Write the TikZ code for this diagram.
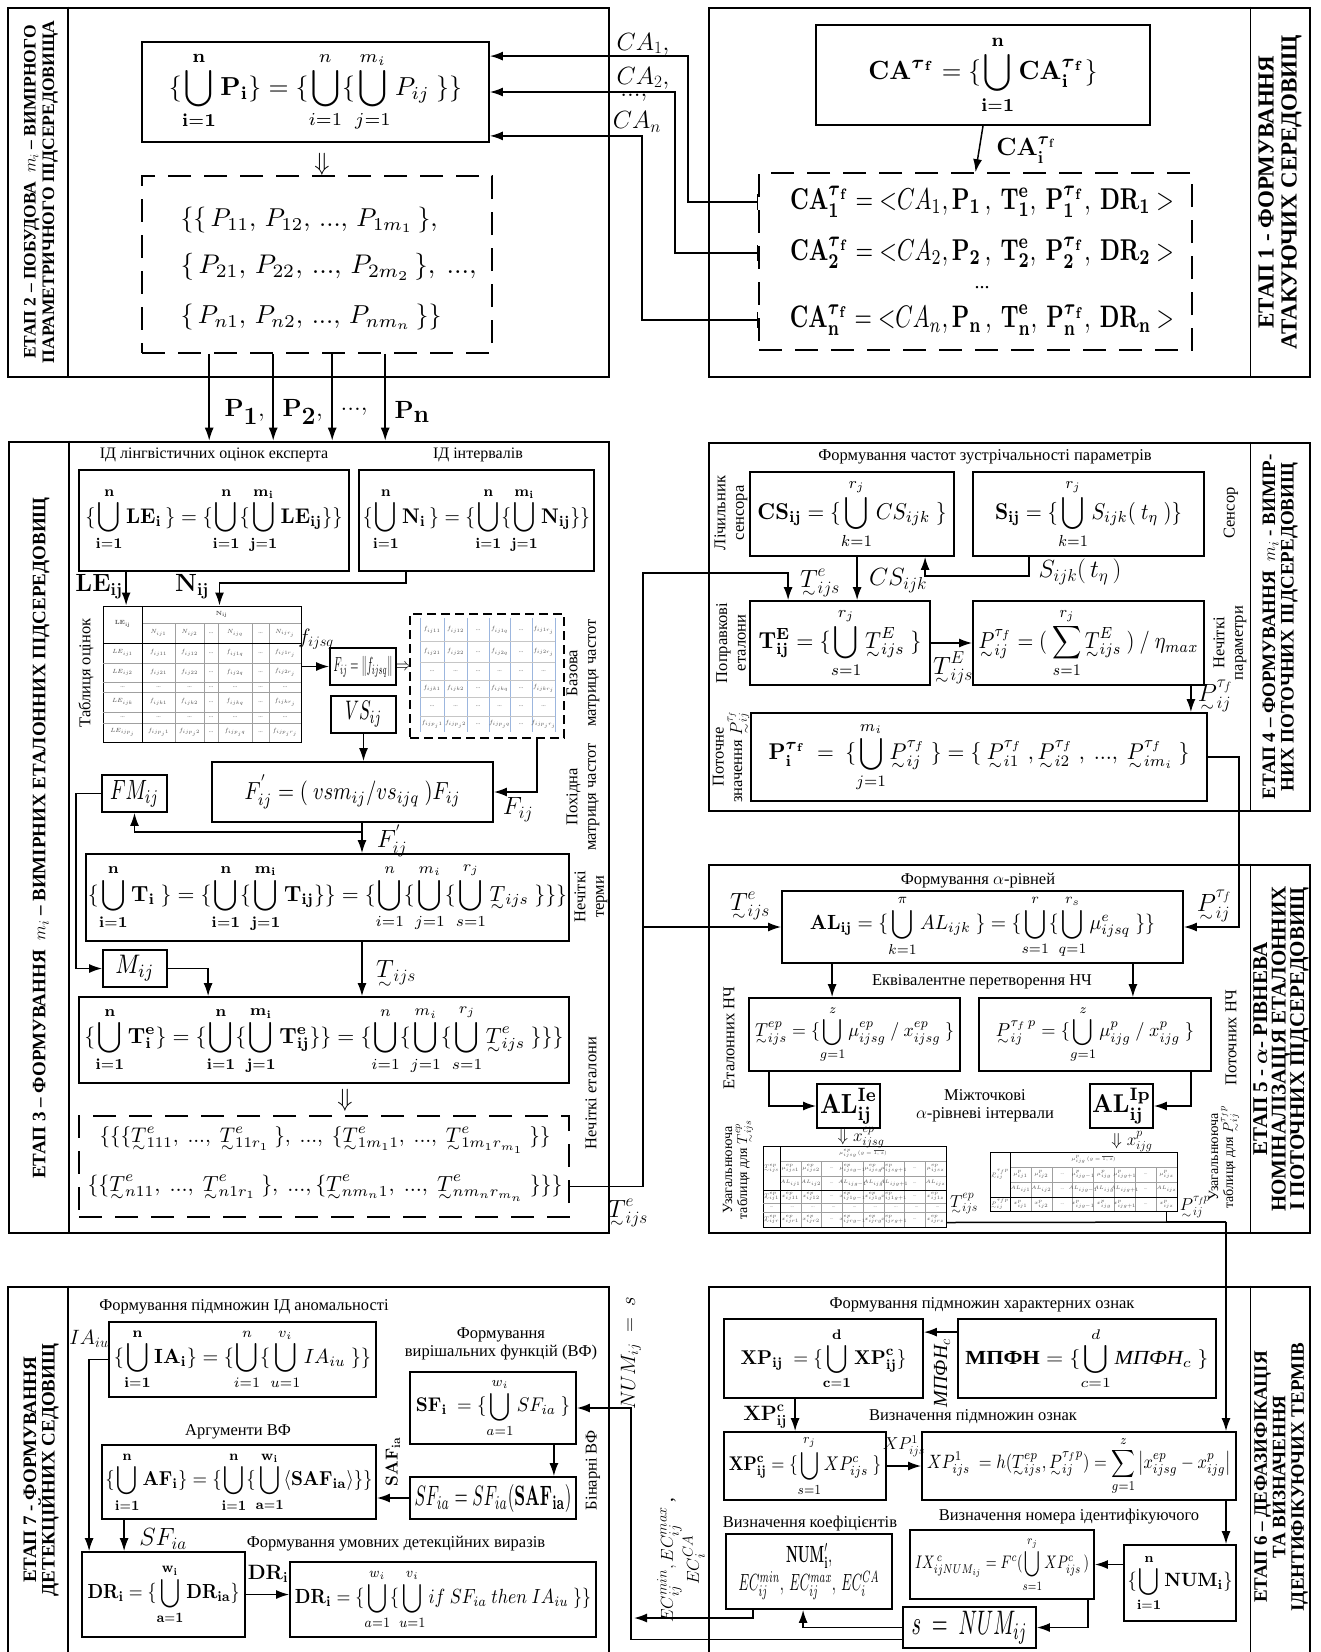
\documentclass[tikz,border=0pt]{standalone}
\usepackage{amsmath}
\usepackage{graphicx}
\usepackage[no-math]{fontspec}
\setmainfont{Liberation Serif}
\usetikzlibrary{arrows.meta}
\definecolor{gridGray}{HTML}{A0A0A0}
\definecolor{gridBlue}{HTML}{9CB6DE}
\definecolor{cellText}{HTML}{505050}
\newcommand{\bv}[1]{\mathbf{#1}}
\newcommand{\fz}[1]{{\vphantom{#1}\smash{\underset{\raisebox{0.45ex}{$\scriptstyle\sim$}}{#1}}}}
\newcommand{\tfb}{\boldsymbol{\tau}_{\mathbf{f}}}
\newcommand{\fb}[3]{\resizebox*{#1pt}{#2pt}{$\displaystyle #3$}}
\newcommand{\fw}[2]{\resizebox{#1pt}{!}{$\displaystyle #2$}}
\begin{document}
\begin{tikzpicture}[x=1pt, y=-1pt,
  stage/.style={draw, line width=2.6pt, inner sep=0pt},
  box/.style={draw, line width=1.8pt, inner sep=0pt},
  dbox/.style={draw, line width=1.6pt, inner sep=0pt, dash pattern=on 23pt off 13pt},
  rule/.style={line width=1.6pt},
  link/.style={line width=1.5pt},
  arr/.style={line width=1.5pt, -{Latex[length=13pt,width=9pt]}},
  tee/.style={line width=1.5pt, {Bar[width=16pt]}-{Latex[length=13pt,width=9pt]}},
  ctext/.style={font=\fontsize{16.5}{18.5}\selectfont, inner sep=0pt, align=center},
  vtext/.style={ctext, rotate=90},
  ttl/.style={font=\bfseries\fontsize{19}{18.5}\selectfont, rotate=90, align=center, inner sep=0pt},
  lab/.style={font=\fontsize{24}{26}\selectfont, inner sep=0pt},
  cell/.style={font=\fontsize{6}{7}\selectfont, text=cellText, inner sep=0pt},
  tcell/.style={font=\fontsize{4.5}{5}\selectfont, text=cellText, inner sep=0pt}]
\useasboundingbox (0,0) rectangle (1320,1652);

% stage frames
\node[stage, minimum width=601pt, minimum height=369pt] (st2) at (308.5,192.5) {};
\node[stage, minimum width=601pt, minimum height=369pt] (st1) at (1009.5,192.5) {};
\node[stage, minimum width=600pt, minimum height=791pt] (st3) at (309,837.5) {};
\node[stage, minimum width=601pt, minimum height=368pt] (st4) at (1009.5,627) {};
\node[stage, minimum width=601pt, minimum height=368pt] (st5) at (1009.5,1049) {};
\node[stage, minimum width=601pt, minimum height=433pt] (st6) at (1009.5,1503.5) {};
\node[stage, minimum width=601pt, minimum height=433pt] (st7) at (308.5,1503.5) {};
\foreach \s in {st2,st3,st7}
  \draw[rule] ([xshift=61pt]\s.north west) -- ([xshift=61pt]\s.south west);
\foreach \s in {st1,st4,st5,st6}
  \draw[rule] ([xshift=-61pt]\s.north east) -- ([xshift=-61pt]\s.south east);

\node[ttl, font=\bfseries\fontsize{17.5}{18.5}\selectfont] (t2) at (41,192) {ЕТАП 2 – ПОБУДОВА \ $m_i$ – ВИМІРНОГО\\ПАРАМЕТРИЧНОГО ПІДСЕРЕДОВИЩА};
\node[ttl, font=\bfseries\fontsize{23}{23}\selectfont] (t1) at (1280,192) {ЕТАП 1 - ФОРМУВАННЯ\\АТАКУЮЧИХ СЕРЕДОВИЩ};
\node[ttl] (t3) at (41,838) {ЕТАП 3 – ФОРМУВАННЯ \ $m_i$ – ВИМІРНИХ ЕТАЛОННИХ ПІДСЕРЕДОВИЩ};
\node[ttl] (t4) at (1280,627) {ЕТАП 4 – ФОРМУВАННЯ \ $m_i$ - ВИМІР-\\НИХ ПОТОЧНИХ ПІДСЕРЕДОВИЩ};
\node[ttl, font=\bfseries\fontsize{21}{18.5}\selectfont] (t5) at (1281,1049) {ЕТАП 5 - $\boldsymbol{\alpha}$- РІВНЕВА\\НОМІНАЛІЗАЦІЯ ЕТАЛОННИХ\\І ПОТОЧНИХ ПІДСЕРЕДОВИЩ};
\node[ttl] (t6) at (1281,1477) {ЕТАП 6 – ДЕФАЗИФІКАЦІЯ\\ТА ВИЗНАЧЕННЯ\\ІДЕНТИФІКУЮЧИХ ТЕРМІВ};
\node[ttl] (t7) at (41,1470) {ЕТАП 7 - ФОРМУВАННЯ\\ДЕТЕКЦІЙНИХ СЕДОВИЩ};

% stage 2
\node[box, minimum width=347pt, minimum height=100pt] (a2) at (315.5,92)
  {\fb{293}{80}{\{\bigcup_{\bv{i=1}}^{\bv n}\bv P_{\bv i}\} =\{\bigcup_{i=1}^{n}\{\bigcup_{j=1}^{m_i}P_{ij}\ \}\}}};
\node[font=\fontsize{24}{24}\selectfont] (dn2) at (322,164) {$\Downarrow$};
\node[dbox, minimum width=350pt, minimum height=177pt] (pset) at (317,264.5) {};
\node[anchor=west] (pl1) at (177,220) {\fw{257}{\{\{\,P_{11},\,P_{12},\,...,\,P_{1m_1}\,\},}};
\node[anchor=west] (pl2) at (177,267) {\fw{296}{\{\,P_{21},\,P_{22},\,...,\,P_{2m_2}\,\},\ ...,}};
\node[anchor=west] (pl3) at (177,317) {\fw{261}{\{\,P_{n1},\,P_{n2},\,...,\,P_{nm_n}\,\}\}}};

% stage 1
\node[box, minimum width=334pt, minimum height=100pt] (ca) at (983,75)
  {\fb{229}{78}{\bv{CA}^{\tfb}=\{\bigcup_{\bv{i=1}}^{\bv n}\bv{CA}_{\bv i}^{\tfb}\}}};
\node[dbox, minimum width=433pt, minimum height=177pt] (cad) at (975.5,261.5) {};
\foreach \k/\y [count=\r] in {1/202, 2/253, n/320}
  \node (row\r) at (982,\y) {\fb{384}{31}{\bv{CA}_{\bv\k}^{\tfb}=\bv{<}CA_{\k},\bv P_{\bv\k}\,,\ \bv T_{\bv\k}^{\bv e},\ \bv P_{\bv\k}^{\tfb},\ \bv{DR}_{\bv\k}\ \bv{>}}};
\node[font=\fontsize{20}{20}\selectfont] (rdots) at (982,288) {...};
\draw[arr] (ca.south) -- (cad.north);
\node[lab] (calab) at (1026,150) {$\bv{CA}_{\bv i}^{\tfb}$};

\draw[tee] (cad.west |- row1) -- ++(-70,0) |- ([yshift=-15pt]a2.north east);
\draw[tee] (cad.west |- row2) -- ++(-83,0) |- (a2.east);
\draw[tee] (cad.west |- row3) -- ++(-116,0) |- ([yshift=7pt]a2.south east);
\node[lab, font=\fontsize{25}{25}\selectfont] (ca1lab) at (643,44) {$CA_1,$};
\node[lab, font=\fontsize{25}{25}\selectfont] (ca2lab) at (643,78) {$CA_2,$};
\node[lab, font=\fontsize{25}{25}\selectfont] (cadlab) at (634,98) {$...,$};
\node[lab, font=\fontsize{25}{25}\selectfont] (canlab) at (637,122) {$CA_n$};

% parameters into stage 3
\foreach \dx in {68,132,191,244}
  \draw[arr] ([xshift=\dx pt]pset.south west) -- ([xshift=\dx pt]pset.south west |- st3.north);
\node[anchor=west, font=\fontsize{36}{36}\selectfont] (p1lab) at (221,412) {$\bv P_{\bv 1},$};
\node[anchor=west, font=\fontsize{36}{36}\selectfont] (p2lab) at (279,412) {$\bv P_{\bv 2},$};
\node[anchor=west, font=\fontsize{36}{36}\selectfont] (pdlab) at (337,412) {$\bv{...},$};
\node[anchor=west, font=\fontsize{36}{36}\selectfont] (pnlab) at (391,412) {$\bv P_{\bv n}$};

% stage 3
\node[ctext, font=\fontsize{16}{18}\selectfont] (c31) at (214,455) {ІД лінгвістичних оцінок експерта};
\node[ctext, font=\fontsize{16}{18}\selectfont] (c32) at (478,455) {ІД інтервалів};
\node[box, minimum width=270pt, minimum height=101pt] (le) at (214,520.5)
  {\fb{257}{66}{\{\bigcup_{\bv{i=1}}^{\bv n}\bv{LE}_{\bv i}\,\}=\{\bigcup_{\bv{i=1}}^{\bv n}\{\bigcup_{\bv{j=1}}^{\bv m_{\bv i}}\bv{LE}_{\bv{ij}}\}\}}};
\node[box, minimum width=235pt, minimum height=101pt] (nn) at (476.5,520.5)
  {\fb{227}{66}{\{\bigcup_{\bv{i=1}}^{\bv n}\bv{N}_{\bv i}\,\}=\{\bigcup_{\bv{i=1}}^{\bv n}\{\bigcup_{\bv{j=1}}^{\bv m_{\bv i}}\bv{N}_{\bv{ij}}\}\}}};

\node[draw, line width=1pt, inner sep=0pt, minimum width=198pt, minimum height=136pt] (tbl) at (202,674) {};
\draw[gridGray, line width=0.6pt] (142,623) -- (301,623);
\foreach \y in {663,682,692,712,723} \draw[gridGray, line width=0.6pt] (103,\y) -- (301,\y);
\foreach \x in {175,204,218,252,269} \draw[gridGray, line width=0.6pt] (\x,623) -- (\x,742);
\draw[line width=1pt] (103,643) -- (301,643) (142,606) -- (142,742);
\node[cell] (th0) at (122.5,624) {$\bv{LE}_{\bv{ij}}$};
\node[cell] (th1) at (221.5,614.5) {$\bv N_{\bv{ij}}$};
\foreach \x/\q [count=\c] in {158.5/1,189.5/2,235/q,285/r_j} \node[cell] (tn\c) at (\x,633) {$N_{ij\q}$};
\foreach \x [count=\c] in {211,260.5} \node[cell] (tnd\c) at (\x,633) {...};
\foreach \y/\k [count=\r] in {653/1,672.5/2,702/k,732.5/p_j}{
  \node[cell] (tl\r) at (122.5,\y) {$LE_{ij\k}$};
  \foreach \x/\q [count=\c] in {158.5/1,189.5/2,235/q,285/r_j} \node[cell] (tf\r\c) at (\x,\y) {$f_{ij\k\q}$};
  \foreach \x [count=\c] in {211,260.5} \node[cell] (td\r\c) at (\x,\y) {...};
}
\foreach \y [count=\r] in {687,717.5}
  \foreach \x [count=\c] in {122.5,158.5,189.5,211,235,260.5,285} \node[cell] (tdot\r\c) at (\x,\y) {...};
\node[vtext] (tblcap) at (86,673) {Таблиця оцінок};

\node[box, minimum width=66pt, minimum height=37pt] (fbox) at (363,666.5) {\fb{59}{21}{F_{ij}=\left\|f_{ijsq}\right\|}};
\node[font=\fontsize{16}{16}\selectfont] (imp) at (403,667) {$\Rightarrow$};
\node[dbox, dash pattern=on 9pt off 5pt, minimum width=154pt, minimum height=124pt] (mat) at (487,676) {};
\foreach \x in {420,444,467,489,510,532,555} \draw[gridBlue, line width=0.8pt] (\x,618) -- (\x,732);
\foreach \y in {641,662,680,697,716} \draw[gridGray!60, line width=0.6pt] (420,\y) -- (555,\y);
\foreach \y/\k [count=\r] in {630/1,652/2,688.5/k,724/p_j}{
  \foreach \x/\q [count=\c] in {432/1,455.5/2,499.5/q,543.5/r_j} \node[cell] (mf\r\c) at (\x,\y) {$f_{ij\k\q}$};
  \foreach \x [count=\c] in {478,521} \node[cell] (md\r\c) at (\x,\y) {...};
}
\foreach \y [count=\r] in {671,706.5}
  \foreach \x [count=\c] in {432,455.5,478,499.5,521,543.5} \node[cell] (mdot\r\c) at (\x,\y) {...};
\node[vtext] (matcap) at (583,673) {Базова\\матриця частот};

\node[box, minimum width=65pt, minimum height=37pt] (vs) at (363.5,714.5) {\fb{37}{26}{VS_{ij}}};
\node[box, minimum width=281pt, minimum height=60pt] (fp) at (352.5,792)
  {\fb{216}{34}{F_{ij}^{'}=(\ vsm_{ij}/vs_{ijq}\ )F_{ij}}};
\node[box, minimum width=65pt, minimum height=37pt] (fm) at (134.5,793.5) {\fb{49}{27}{FM_{ij}}};
\node[box, minimum width=483pt, minimum height=87pt] (tt) at (327.5,897.5)
  {\fb{479}{70}{\{\bigcup_{\bv{i=1}}^{\bv n}\bv T_{\bv i}\ \}=\{\bigcup_{\bv{i=1}}^{\bv n}\{\bigcup_{\bv{j=1}}^{\bv m_{\bv i}}\bv T_{\bv{ij}}\}\}=\{\bigcup_{i=1}^{n}\{\bigcup_{j=1}^{m_i}\{\bigcup_{s=1}^{r_j}\fz T_{ijs}\ \}\}\}}};
\node[box, minimum width=64pt, minimum height=37pt] (mm) at (135,968.5) {\fb{39}{26}{M_{ij}}};
\node[box, minimum width=490pt, minimum height=86pt] (te) at (324,1040)
  {\fb{479}{70}{\{\bigcup_{\bv{i=1}}^{\bv n}\bv T_{\bv i}^{\bv e}\}=\{\bigcup_{\bv{i=1}}^{\bv n}\{\bigcup_{\bv{j=1}}^{\bv m_{\bv i}}\bv T_{\bv{ij}}^{\bv e}\}\}=\{\bigcup_{i=1}^{n}\{\bigcup_{j=1}^{m_i}\{\bigcup_{s=1}^{r_j}\fz T_{ijs}^{e}\ \}\}\}}};
\node[font=\fontsize{24}{24}\selectfont] (dn3) at (345,1100) {$\Downarrow$};
\node[dbox, minimum width=490pt, minimum height=101pt] (ted) at (324,1166.5) {};
\node[anchor=west] (tel1) at (96,1140) {\fw{451}{\{\{\{\fz T_{111}^{e},\ ...,\ \fz T_{11r_1}^{e}\ \},\ ...,\ \{\fz T_{1m_11}^{e},\ ...,\ \fz T_{1m_1r_{m_1}}^{e}\ \}\}}};
\node[anchor=west] (tel2) at (84,1188) {\fw{475}{\{\{\fz T_{n11}^{e},\ ...,\ \fz T_{n1r_1}^{e}\ \},\ ...,\{\fz T_{nm_n1}^{e},\ ...,\ \fz T_{nm_nr_{m_n}}^{e}\ \}\}\}}};
\node[vtext] (derivcap) at (583,797) {Похідна\\матриця частот};
\node[vtext] (termcap) at (591,897) {Нечіткі\\терми};
\node[vtext] (etcap) at (591,1093) {Нечіткі еталони};

\draw[arr] ([xshift=48pt]le.south west) -- ([xshift=48pt]le.south west |- tbl.north);
\draw[arr] ([xshift=48pt]nn.south west) -- ++(0,11) -| ([xshift=117pt]tbl.north west);
\node[lab, font=\fontsize{26}{26}\selectfont] (lelab) at (99,587) {$\bv{LE}_{\bv{ij}}$};
\node[lab, font=\fontsize{26}{26}\selectfont] (nlab) at (192,587) {$\bv N_{\bv{ij}}$};
\draw[arr] (tbl.east |- fbox) -- (fbox.west);
\node[lab, font=\fontsize{20}{20}\selectfont] (flab) at (316,639) {$f_{ijsq}$};
\draw[arr] (vs.south) -- (vs.south |- fp.north);
\draw[arr] ([xshift=-28pt]mat.south east) |- (fp.east);
\node[lab] (fijlab) at (518,810) {$F_{ij}$};
\coordinate (fsplit) at (362,832);
\draw[arr] (fsplit |- fp.south) -- (fsplit |- tt.north);
\draw[arr] (fsplit) -| (fm.south);
\node[lab] (fplab) at (392,841) {$F_{ij}^{'}$};
\draw[arr] (fm.west) -- ++(-25,0) |- (mm.west);
\draw[arr] (mm.east) -| ([xshift=130pt]te.north west);
\draw[arr] (fsplit |- tt.south) -- (fsplit |- te.north);
\node[lab] (tijslab) at (396,973) {$\fz T_{ijs}$};

% stage 4
\node[ctext] (c41) at (985,457) {Формування частот зустрічальності параметрів};
\node[box, minimum width=204pt, minimum height=84pt] (cs) at (852,514)
  {\fb{189}{70}{\bv{CS}_{\bv{ij}}=\{\bigcup_{k=1}^{r_j}CS_{ijk}\ \}}};
\node[box, minimum width=231pt, minimum height=84pt] (ss) at (1088.5,514)
  {\fb{187}{70}{\bv S_{\bv{ij}}=\{\bigcup_{k=1}^{r_j}S_{ijk}(\ t_\eta\ )\}}};
\node[box, minimum width=180pt, minimum height=84pt] (tE) at (840,643)
  {\fb{163}{70}{\bv T_{\bv{ij}}^{\bv E}=\{\bigcup_{s=1}^{r_j}\fz T_{ijs}^{E}\ \}}};
\node[box, minimum width=231pt, minimum height=84pt] (pt) at (1088.5,643)
  {\fb{220}{70}{\fz P_{ij}^{\tau_f}=(\ \sum_{s=1}^{r_j}\fz T_{ijs}^{E}\ )\ /\ \eta_{max}}};
\node[box, minimum width=456pt, minimum height=88pt] (pi) at (979,757)
  {\fb{421}{70}{\bv P_{\bv i}^{\tfb}\ =\ \{\bigcup_{j=1}^{m_i}\fz P_{ij}^{\tau_f}\ \}=\{\ \fz P_{i1}^{\tau_f}\ ,\fz P_{i2}^{\tau_f}\ ,\ ...,\ \fz P_{im_i}^{\tau_f}\ \}}};
\node[vtext] (cntcap) at (731,513) {Лічильник\\сенсора};
\node[vtext] (sencap) at (1231,513) {Сенсор};
\node[vtext] (corcap) at (731,643) {Поправкові\\еталони};
\node[vtext] (fpcap) at (1230,643) {Нечіткі\\параметри};
\node[vtext] (curcap) at (731,757) {Поточне\\значення $\fz P_{ij}^{\tau_f}$};

\draw[arr] ([xshift=57pt]ss.south west) -- ++(0,19) -| ([xshift=176pt]cs.south west);
\node[lab] (stlab) at (1080,572) {$S_{ijk}(\,t_\eta\,)$};
\draw[arr] ([xshift=108pt]cs.south west) -- ([xshift=108pt]cs.south west |- tE.north);
\node[lab] (cslab) at (898,581) {$CS_{ijk}$};
\draw[arr] (tE.east) -- (pt.west);
\node[lab] (telab4) at (953,668) {$\fz T_{ijs}^{E}$};
\draw[arr] ([xshift=-14pt]pt.south east) -- ([xshift=-14pt]pt.south east |- pi.north);
\node[lab] (pflab) at (1215,696) {$\fz P_{ij}^{\tau_f}$};

% stage 5
\node[ctext] (c51) at (978,881) {Формування $\alpha$-рівней};
\node[box, minimum width=401pt, minimum height=72pt] (al) at (982.5,927)
  {\fb{345}{63}{\bv{AL}_{\bv{ij}}=\{\bigcup_{k=1}^{\pi}AL_{ijk}\ \}=\{\bigcup_{s=1}^{r}\{\bigcup_{q=1}^{r_s}\mu_{ijsq}^{e}\ \}\}}};
\node[ctext] (c52) at (982,982) {Еквівалентне перетворення НЧ};
\node[box, minimum width=211pt, minimum height=73pt] (tep) at (854.5,1034.5)
  {\fb{199}{57}{\fz T_{ijs}^{ep}=\{\bigcup_{g=1}^{z}\mu_{ijsg}^{ep}\ /\ x_{ijsg}^{ep}\ \}}};
\node[box, minimum width=232pt, minimum height=73pt] (pp) at (1095,1034.5)
  {\fb{198}{57}{\fz P_{ij}^{\tau_f\,p}=\{\bigcup_{g=1}^{z}\mu_{ijg}^{p}\ /\ x_{ijg}^{p}\ \}}};
\node[box, minimum width=63pt, minimum height=44pt] (alie) at (848.5,1106) {\fb{57}{36}{\bv{AL}_{\bv{ij}}^{\bv{Ie}}}};
\node[box, minimum width=63pt, minimum height=44pt] (alip) at (1121.5,1106) {\fb{59}{36}{\bv{AL}_{\bv{ij}}^{\bv{Ip}}}};
\node[ctext] (c53) at (985,1106) {Міжточкові\\$\alpha$-рівневі інтервали};
\node[vtext] (etncap) at (729,1038) {Еталонних НЧ};
\node[vtext] (curncap) at (1231,1038) {Поточних НЧ};
\node[vtext, font=\fontsize{14}{15}\selectfont] (gtcap1) at (738,1170) {Узагальнююча\\таблиця для $\fz T_{ijs}^{ep}$};
\node[vtext, font=\fontsize{14}{15}\selectfont] (gtcap2) at (1224,1157) {Узагальнююча\\таблиця для $\fz P_{ij}^{\tau_f\,p}$};

\draw[arr] ([xshift=51pt]al.south west) -- ([xshift=51pt]al.south west |- tep.north);
\draw[arr] ([xshift=-51pt]al.south east) -- ([xshift=-51pt]al.south east |- pp.north);
\draw[arr] ([xshift=21pt]tep.south west) |- (alie.west);
\draw[arr] ([xshift=-21pt]pp.south east) |- (alip.east);
\node[lab, font=\fontsize{17}{17}\selectfont] (xeplab) at (861,1138) {$\Downarrow x_{ijsg}^{ep}$};
\node[lab, font=\fontsize{17}{17}\selectfont] (xplab) at (1132,1142) {$\Downarrow x_{ijg}^{p}$};

\node[draw, line width=1pt, inner sep=0pt, minimum width=183pt, minimum height=81pt] (tbe) at (854.5,1186.5) {};
\foreach \y in {1161,1176} \draw[gridGray, line width=0.5pt] (780,\y) -- (946,\y);
\foreach \y in {1203,1212} \draw[gridGray, line width=0.5pt] (763,\y) -- (946,\y);
\foreach \k in {1,...,7} \draw[gridGray, line width=0.5pt] (780+20.75*\k,1161) -- (780+20.75*\k,1227);
\draw[line width=1pt] (763,1190) -- (946,1190) (780,1146) -- (780,1227);
\node[tcell] (tbeh) at (863,1153.5) {$\mu_{ijsg}^{ep}\ (g=\overline{1,z})$};
\foreach \c/\s in {1/1,2/2,4/g-1,5/g,6/g+1,8/z}{
  \node[tcell] (tbm\c) at (769.6+20.75*\c,1168.5) {$\mu_{ijs\s}^{ep}$};
  \node[tcell] (tba\c) at (769.6+20.75*\c,1183) {$AL_{ij\s}$};
  \node[tcell] (tbx\c) at (769.6+20.75*\c,1196.5) {$x_{ij1\s}^{ep}$};
  \node[tcell] (tby\c) at (769.6+20.75*\c,1219.5) {$x_{ijr\s}^{ep}$};
}
\foreach \c in {3,7}
  \foreach \y [count=\r] in {1168.5,1183,1196.5,1219.5} \node[tcell] (tbd\c\r) at (769.6+20.75*\c,\y) {...};
\foreach \c in {0,...,8} \node[tcell] (tbdd\c) at (771.5+20.75*\c,1207.5) {...};
\node[tcell] (tbt1) at (771.5,1168) {$\fz T_{ijs}^{ep}$};
\node[tcell] (tbt2) at (771.5,1196.5) {$\fz T_{ij1}^{ep}$};
\node[tcell] (tbt3) at (771.5,1219.5) {$\fz T_{ijr}^{ep}$};

\node[draw, line width=1pt, inner sep=0pt, minimum width=187pt, minimum height=59pt] (tbp) at (1083.5,1181.5) {};
\foreach \y in {1167,1182} \draw[gridGray, line width=0.5pt] (1010,\y) -- (1177,\y);
\foreach \k in {1,...,7} \draw[gridGray, line width=0.5pt] (1010+20.875*\k,1167) -- (1010+20.875*\k,1211);
\draw[line width=1pt] (990,1197) -- (1177,1197) (1010,1152) -- (1010,1211);
\node[tcell] (tbph) at (1093.5,1159.5) {$\mu_{ijg}^{p}\ (g=\overline{1,z})$};
\foreach \c/\s in {1/1,2/2,4/g-1,5/g,6/g+1,8/z}{
  \node[tcell] (tpm\c) at (999.6+20.875*\c,1174.5) {$\mu_{ij\s}^{p}$};
  \node[tcell] (tpa\c) at (999.6+20.875*\c,1189.5) {$AL_{ij\s}$};
  \node[tcell] (tpx\c) at (999.6+20.875*\c,1204) {$x_{ij\s}^{p}$};
}
\foreach \c in {3,7}
  \foreach \y [count=\r] in {1174.5,1189.5,1204} \node[tcell] (tpd\c\r) at (999.6+20.875*\c,\y) {...};
\node[tcell] (tpt1) at (1000,1174.5) {$\fz P_{ij}^{\tau_f p}$};
\node[tcell] (tpt2) at (1000,1204) {$\fz P_{ij}^{\tau_f p}$};
\node[lab, font=\fontsize{17}{17}\selectfont] (teplab) at (964,1204) {$\fz T_{ijs}^{ep}$};
\node[lab, font=\fontsize{17}{17}\selectfont] (pplab) at (1195,1207) {$\fz P_{ij}^{\tau_f p}$};

% fuzzy standards to stages 4 and 5
\coordinate (tcorner) at (643,573);
\draw[arr] ([yshift=-20pt]ted.east) -| (tcorner) -| ([xshift=39pt]tE.north west);
\draw[arr] (tcorner |- al.west) -- (al.west);
\node[lab] (telab1) at (628,1213) {$\fz T_{ijs}^{e}$};
\node[lab] (telab2) at (820,583) {$\fz T_{ijs}^{e}$};
\node[lab] (telab3) at (750,906) {$\fz T_{ijs}^{e}$};
\draw[arr] (pi.east) -- ++(31,0) |- (al.east);
\node[lab] (pflab2) at (1214,906) {$\fz P_{ij}^{\tau_f}$};

% stage 6
\node[ctext] (c61) at (982,1305) {Формування підмножин характерних ознак};
\node[box, minimum width=199pt, minimum height=79pt] (xp) at (823.5,1358.5)
  {\fb{166}{62}{\bv{XP}_{\bv{ij}}\ =\{\bigcup_{\bv{c=1}}^{\bv d}\bv{XP}_{\bv{ij}}^{\bv c}\}}};
\node[box, minimum width=258pt, minimum height=79pt] (mp) at (1087,1358.5)
  {\fb{243}{62}{\textbf{МПФН}=\{\bigcup_{c=1}^{d}\textit{МПФН}_c\ \}}};
\node[ctext] (c62) at (973,1417) {Визначення підмножин ознак};
\node[box, minimum width=162pt, minimum height=68pt] (xpc) at (805,1466)
  {\fb{152}{60}{\bv{XP}_{\bv{ij}}^{\bv c}=\{\bigcup_{s=1}^{r_j}XP_{ijs}^{c}\ \}}};
\node[box, minimum width=314pt, minimum height=68pt] (xp1) at (1079,1466)
  {\fb{304}{59}{XP_{ijs}^{1}\ =h(\fz T_{ijs}^{ep},\fz P_{ij}^{\tau_f p})=\sum_{g=1}^{z}\left|x_{ijsg}^{ep}-x_{ijg}^{p}\right|}};
\node[ctext] (c63) at (1069,1517) {Визначення номера ідентифікуючого};
\node[ctext] (c64) at (810,1524) {Визначення коефіцієнтів};
\node[box, minimum width=184pt, minimum height=69pt] (ix) at (1002,1564.5)
  {\fb{174}{55}{IX_{ijNUM_{ij}}^{\,c}=F^{c}(\bigcup_{s=1}^{r_j}XP_{ijs}^{c}\,)}};
\node[box, minimum width=112pt, minimum height=76pt] (num) at (1180,1583)
  {\fb{105}{57}{\{\bigcup_{\bv{i=1}}^{\bv n}\bv{NUM}_{\bv i}\}}};
\node[box, minimum width=166pt, minimum height=75pt] (nump) at (809,1571.5)
  {\fb{154}{57}{\begin{array}{c}\bv{NUM}_{\bv i}',\\ EC_{ij}^{min},\ EC_{ij}^{max},\ EC_{i}^{CA}\end{array}}};
\node[box, minimum width=133pt, minimum height=41pt] (sn) at (969.5,1627.5) {\fb{116}{33}{s\ =\ NUM_{ij}}};

\draw[arr] ([yshift=-14pt]mp.north west) -- ([yshift=-14pt]mp.north west -| xp.east);
\node[lab, rotate=90, font=\fontsize{20}{20}\selectfont] (mplab) at (942,1373) {$\textit{МПФН}_c$};
\draw[arr] ([xshift=72pt]xp.south west) -- ([xshift=72pt]xp.south west |- xpc.north);
\node[lab, font=\fontsize{22}{22}\selectfont] (xpclab) at (765,1417) {$\bv{XP}_{\bv{ij}}^{\bv c}$};
\draw[arr] (xpc.east) -- (xp1.west);
\node[lab, font=\fontsize{18}{18}\selectfont] (xp1lab) at (904,1446) {$XP_{ijs}^{1}$};
\coordinate (jn) at (1226,1222);
\draw[link] ([yshift=5pt]tbe.south east) -- (jn);
\draw[link] ([xshift=-11pt]tbp.south east) |- (jn);
\draw[arr] (jn) -- (jn |- xp1.north);
\draw[arr] (jn |- xp1.south) -- (jn |- num.north);
\draw[arr] (num.west |- ix.east) -- (ix.east);
\draw[arr] ([xshift=-7pt]ix.south east) |- (sn.east);
\draw[arr] (sn.west) -| ([xshift=78pt]nump.south west);
\coordinate (numc) at (631,1408);
\coordinate (ecend) at (634,1618);
\draw[arr] ([xshift=28pt]nump.south west) |- (ecend);
\node[lab, rotate=90, align=center, font=\fontsize{19}{24}\selectfont] (eclab) at (681,1560) {$EC_{ij}^{min},EC_{ij}^{max}$ ,\\$EC_{i}^{CA}$};
\node[lab, rotate=90, font=\fontsize{22}{22}\selectfont] (numslab) at (631,1353) {$NUM_{ij}\ =\ s$};

% stage 7
\node[ctext] (c71) at (244,1307) {Формування підмножин ІД аномальності};
\node[box, minimum width=267pt, minimum height=75pt] (ia) at (242.5,1359.5)
  {\fb{257}{61}{\{\bigcup_{\bv{i=1}}^{\bv n}\bv{IA}_{\bv i}\}=\{\bigcup_{i=1}^{n}\{\bigcup_{u=1}^{v_i}IA_{iu}\ \}\}}};
\node[ctext] (c72) at (501,1344) {Формування\\вирішальних функцій (ВФ)};
\node[box, minimum width=166pt, minimum height=72pt] (sf) at (493,1408)
  {\fb{154}{58}{\bv{SF}_{\bv i}\ =\{\bigcup_{a=1}^{w_i}SF_{ia}\ \}}};
\node[box, minimum width=166pt, minimum height=42pt] (sfa) at (493,1498)
  {\fb{157}{28}{SF_{ia}=SF_{ia}(\bv{SAF}_{\bv{ia}})}};
\node[ctext] (c73) at (238,1432) {Аргументи ВФ};
\node[box, minimum width=274pt, minimum height=74pt] (af) at (239,1482)
  {\fb{267}{60}{\{\bigcup_{\bv{i=1}}^{\bv n}\bv{AF}_{\bv i}\}=\{\bigcup_{\bv{i=1}}^{\bv n}\{\bigcup_{\bv{a=1}}^{\bv w_{\bv i}}\langle\bv{SAF}_{\bv{ia}}\rangle\}\}}};
\node[ctext] (c74) at (396,1544) {Формування умовних детекційних виразів};
\node[box, minimum width=163pt, minimum height=85pt] (dr) at (163.5,1594.5)
  {\fb{152}{60}{\bv{DR}_{\bv i}=\{\bigcup_{\bv{a=1}}^{\bv w_{\bv i}}\bv{DR}_{\bv{ia}}\}}};
\node[box, minimum width=306pt, minimum height=75pt] (dr2) at (443,1599.5)
  {\fb{296}{60}{\bv{DR}_{\bv i}=\{\bigcup_{a=1}^{w_i}\{\bigcup_{u=1}^{v_i}if\ SF_{ia}\ then\ IA_{iu}\ \}\}}};
\node[vtext] (bincap) at (593,1470) {Бінарні ВФ};

\draw[arr] ([yshift=-12pt]sn.west) -| (numc) -- (sf.east);
\draw[arr] (ia.west) -| ([xshift=8pt]dr.north west);
\node[lab, font=\fontsize{22}{22}\selectfont] (ialab) at (89,1339) {$IA_{iu}$};
\draw[arr] ([xshift=-23pt]sf.south east) -- ([xshift=-23pt]sf.south east |- sfa.north);
\draw[arr] (sfa.west) -- (sfa.west -| af.east);
\node[lab, rotate=90, font=\fontsize{18}{18}\selectfont] (saflab) at (393,1462) {$\bv{SAF}_{\bv{ia}}$};
\draw[arr] ([xshift=23pt]af.south west) -- ([xshift=23pt]af.south west |- dr.north);
\node[lab] (sflab) at (163,1539) {$SF_{ia}$};
\draw[arr] (dr.east) -- (dr.east -| dr2.west);
\node[lab, font=\fontsize{20}{20}\selectfont] (drlab) at (268,1574) {$\bv{DR}_{\bv i}$};
\end{tikzpicture}
\end{document}
